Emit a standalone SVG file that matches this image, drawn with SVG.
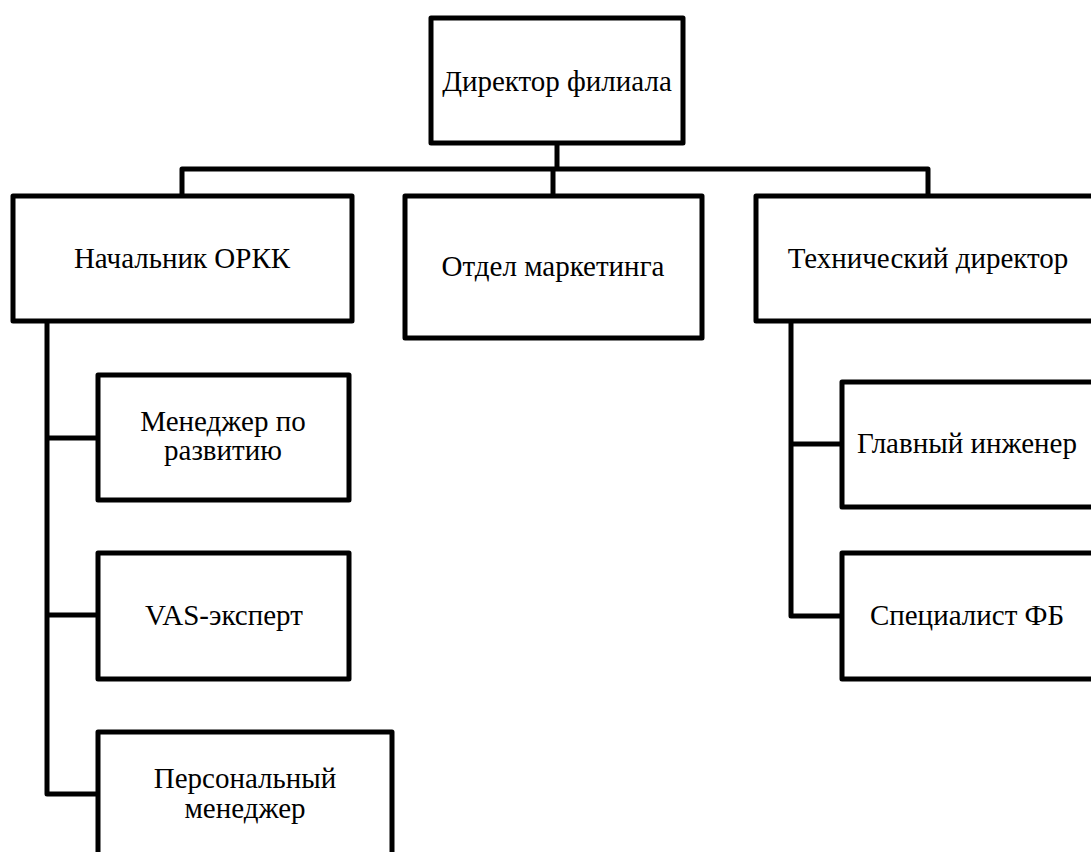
<svg xmlns="http://www.w3.org/2000/svg" width="1091" height="852" viewBox="0 0 1091 852">
  <style>
    .box { fill: #ffffff; stroke: #000000; stroke-width: 5; stroke-linejoin: round; }
    .link { fill: none; stroke: #000000; stroke-width: 5; stroke-linejoin: round; stroke-linecap: butt; }
    .label { font-family: 'Liberation Serif', 'Times New Roman', serif; font-size: 29px; fill: #000000; text-anchor: middle; }
  </style>
  <rect width="1091" height="852" fill="#ffffff"/>

  <!-- connectors -->
  <g id="connectors">
    <path class="link" d="M557,143 V169"/>
    <path class="link" d="M182,196 V169 H928 V196"/>
    <path class="link" d="M553,169 V196"/>
    <path class="link" d="M47,321 V794 H98"/>
    <path class="link" d="M47,438 H98"/>
    <path class="link" d="M47,615 H98"/>
    <path class="link" d="M791,321 V616 H842"/>
    <path class="link" d="M791,444 H842"/>
  </g>

  <g id="director">
    <rect class="box" x="431" y="18" width="252" height="125"/>
    <text class="label" x="557" y="91">Директор филиала</text>
  </g>

  <g id="orkk-head">
    <rect class="box" x="13" y="196" width="339" height="125"/>
    <text class="label" x="182" y="268">Начальник ОРКК</text>
  </g>

  <g id="marketing">
    <rect class="box" x="405" y="196" width="297" height="142"/>
    <text class="label" x="553" y="276">Отдел маркетинга</text>
  </g>

  <g id="tech-director">
    <rect class="box" x="756" y="196" width="345" height="125"/>
    <text class="label" x="928" y="268">Технический директор</text>
  </g>

  <g id="dev-manager">
    <rect class="box" x="98" y="375" width="251" height="125"/>
    <text class="label" x="223" y="431">Менеджер по</text>
    <text class="label" x="223" y="460">развитию</text>
  </g>

  <g id="vas-expert">
    <rect class="box" x="98" y="553" width="251" height="126"/>
    <text class="label" x="224" y="625">VAS-эксперт</text>
  </g>

  <g id="personal-manager">
    <rect class="box" x="98" y="732" width="294" height="140"/>
    <text class="label" x="245" y="788">Персональный</text>
    <text class="label" x="245" y="818">менеджер</text>
  </g>

  <g id="chief-engineer">
    <rect class="box" x="842" y="382" width="255" height="125"/>
    <text class="label" x="967" y="453">Главный инженер</text>
  </g>

  <g id="fb-specialist">
    <rect class="box" x="842" y="553" width="255" height="126"/>
    <text class="label" x="967" y="625">Специалист ФБ</text>
  </g>
</svg>
